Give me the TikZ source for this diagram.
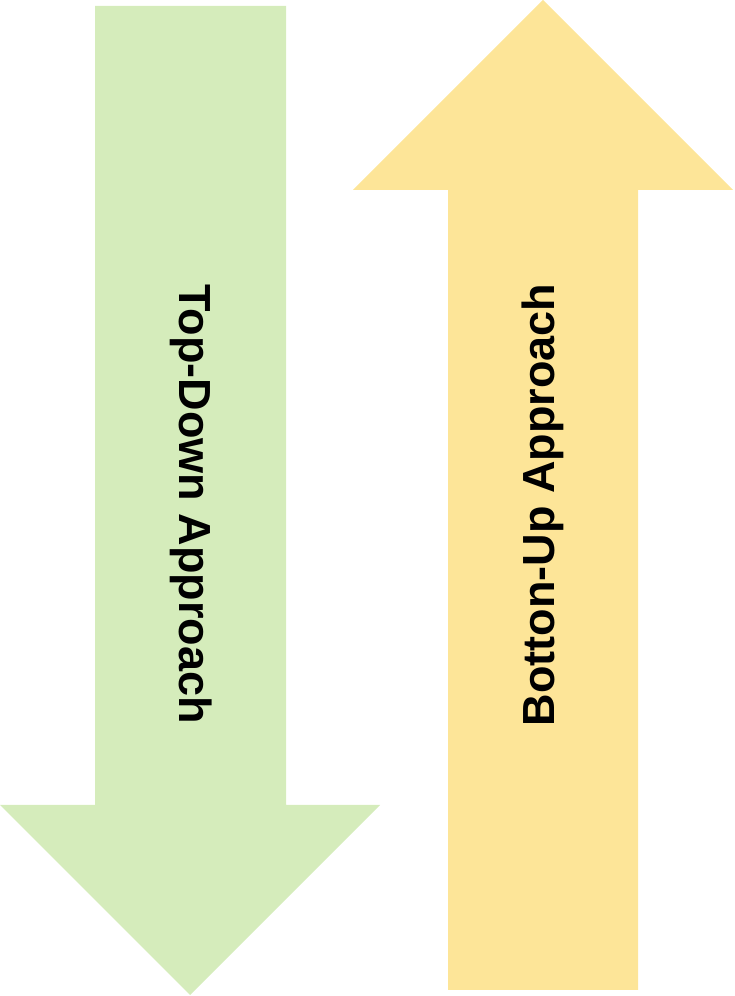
\documentclass[tikz,border=0pt]{standalone}
\usepackage{fontspec}
\setmainfont{Liberation Sans}
\definecolor{downgreen}{HTML}{D5ECBB}
\definecolor{upyellow}{HTML}{FDE598}
\tikzset{x=1pt, y=1pt,
arrowbody/.style={draw=none}, % the two big arrows
label/.style={font=\fontsize{45}{54}\selectfont\bfseries, inner sep=0pt},
}

\begin{document}
\begin{tikzpicture}
  \useasboundingbox (0,0) rectangle (734,996);

  % top-down arrow
  \fill[arrowbody, downgreen] (95,990) -- (286,990) -- (286,191) -- (380,191)
        -- (190,1) -- (0,191) -- (95,191) -- cycle;
  % bottom-up arrow
  \fill[arrowbody, upyellow] (448,6) -- (638,6) -- (638,806) -- (733,806)
        -- (543,996) -- (353,806) -- (448,806) -- cycle;

  \node[label, rotate=-90] (down) at (191,492) {Top-Down Approach};
  \node[label, rotate=90] (up) at (543,491) {Botton-Up Approach};

\end{tikzpicture}
\end{document}
